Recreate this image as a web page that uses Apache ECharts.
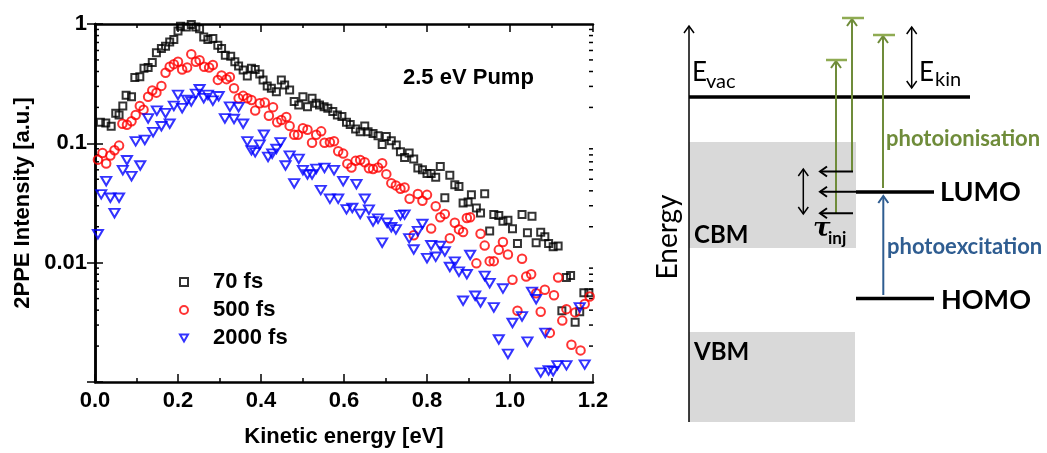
<!DOCTYPE html>
<html>
<head>
<meta charset="utf-8">
<script src="https://cdn.jsdelivr.net/npm/echarts@6/dist/echarts.min.js"></script>
<style>
  html, body { margin: 0; padding: 0; background: #fff; }
  #chart { width: 1047px; height: 453px; }
</style>
</head>
<body>
<div id="chart"></div>
<script>
// [kinetic energy (eV), 2PPE intensity (a.u.)]
const fs70 = [
  [0.013,0.150],[0.026,0.148],[0.039,0.139],[0.050,0.179],[0.058,0.173],[0.067,0.206],[0.075,0.253],[0.088,0.246],
  [0.096,0.357],[0.108,0.362],[0.118,0.425],[0.128,0.432],[0.138,0.476],[0.148,0.573],[0.160,0.622],[0.170,0.652],
  [0.180,0.708],[0.190,0.740],[0.200,0.874],[0.206,0.956],[0.220,0.944],[0.232,0.990],[0.243,0.944],[0.252,0.914],
  [0.262,0.780],[0.272,0.740],[0.284,0.755],[0.296,0.664],[0.305,0.622],[0.314,0.548],[0.327,0.538],[0.337,0.482],
  [0.346,0.444],[0.357,0.411],[0.367,0.367],[0.377,0.425],[0.386,0.416],[0.397,0.381],[0.405,0.340],[0.415,0.303],
  [0.425,0.289],[0.437,0.271],[0.449,0.340],[0.457,0.308],[0.469,0.280],[0.480,0.224],[0.491,0.210],[0.501,0.246],
  [0.512,0.203],[0.523,0.239],[0.533,0.217],[0.541,0.210],[0.552,0.203],[0.561,0.197],[0.573,0.185],[0.584,0.173],
  [0.595,0.168],[0.606,0.150],[0.615,0.144],[0.628,0.132],[0.639,0.125],[0.650,0.140],[0.658,0.125],[0.670,0.121],
  [0.682,0.116],[0.692,0.098],[0.702,0.114],[0.714,0.105],[0.726,0.097],[0.736,0.085],[0.746,0.076],[0.757,0.083],
  [0.768,0.074],[0.778,0.062],[0.789,0.060],[0.800,0.056],[0.810,0.056],[0.821,0.052],[0.832,0.064],[0.843,0.035],
  [0.855,0.054],[0.867,0.045],[0.877,0.0435],[0.887,0.0316],[0.899,0.0322],[0.907,0.037],[0.919,0.0287],[0.929,0.0261],
  [0.939,0.0378],[0.951,0.0184],[0.961,0.0253],[0.973,0.0248],[0.983,0.0222],[0.995,0.0227],[1.006,0.0192],[1.018,0.0145],
  [1.029,0.0253],[1.042,0.0178],[1.053,0.0245],[1.063,0.0147],[1.074,0.0180],[1.084,0.0165],[1.093,0.0145],[1.104,0.0136],
  [1.116,0.0138],[1.125,0.00396],[1.136,0.0075],[1.146,0.0078],[1.157,0.00316],[1.168,0.00388],[1.178,0.0056],[1.190,0.0056]
];
const fs500 = [
  [0.007,0.073],[0.018,0.083],[0.027,0.0677],[0.037,0.079],[0.047,0.0874],[0.058,0.0957],[0.066,0.146],[0.077,0.143],
  [0.088,0.153],[0.098,0.173],[0.108,0.206],[0.117,0.191],[0.128,0.246],[0.138,0.277],[0.148,0.266],[0.160,0.303],
  [0.170,0.391],[0.180,0.438],[0.190,0.461],[0.200,0.482],[0.210,0.416],[0.222,0.432],[0.232,0.559],[0.243,0.482],
  [0.252,0.498],[0.263,0.438],[0.275,0.432],[0.284,0.453],[0.296,0.340],[0.305,0.370],[0.317,0.345],[0.325,0.360],
  [0.335,0.289],[0.346,0.239],[0.357,0.250],[0.367,0.239],[0.377,0.231],[0.386,0.188],[0.397,0.217],[0.409,0.220],
  [0.419,0.170],[0.429,0.201],[0.439,0.150],[0.449,0.157],[0.461,0.166],[0.469,0.140],[0.480,0.118],[0.489,0.118],
  [0.501,0.134],[0.512,0.130],[0.523,0.101],[0.533,0.118],[0.545,0.126],[0.553,0.101],[0.566,0.102],[0.576,0.104],
  [0.586,0.0858],[0.598,0.082],[0.608,0.0676],[0.618,0.0627],[0.628,0.0713],[0.639,0.0726],[0.650,0.0695],[0.660,0.0619],
  [0.670,0.061],[0.682,0.0627],[0.692,0.068],[0.702,0.0552],[0.714,0.0464],[0.725,0.0444],[0.736,0.0416],[0.746,0.0427],
  [0.758,0.0343],[0.768,0.017],[0.778,0.0376],[0.789,0.033],[0.800,0.037],[0.810,0.0193],[0.821,0.0297],[0.832,0.024],
  [0.843,0.0256],[0.855,0.016],[0.867,0.0216],[0.877,0.019],[0.887,0.0181],[0.896,0.0237],[0.904,0.024],[0.919,0.00987],
  [0.929,0.0175],[0.939,0.0139],[0.951,0.0103],[0.961,0.0103],[0.973,0.0128],[0.983,0.0149],[0.995,0.0117],[1.006,0.00718],
  [1.018,0.00396],[1.029,0.0108],[1.039,0.00764],[1.051,0.008],[1.063,0.00555],[1.074,0.00388],[1.084,0.00592],[1.096,0.00258],
  [1.106,0.00534],[1.116,0.0075],[1.126,0.00327],[1.136,0.00408],[1.148,0.00205],[1.157,0.00383],[1.170,0.00184],[1.180,0.0045],
  [1.192,0.00521]
];
const fs2000 = [
  [0.007,0.0173],[0.015,0.0374],[0.027,0.0482],[0.037,0.035],[0.047,0.026],[0.058,0.035],[0.067,0.0596],[0.077,0.0722],
  [0.088,0.0531],[0.098,0.104],[0.109,0.0652],[0.120,0.107],[0.128,0.162],[0.140,0.124],[0.149,0.188],[0.160,0.139],
  [0.170,0.179],[0.180,0.146],[0.190,0.206],[0.200,0.255],[0.210,0.197],[0.222,0.231],[0.232,0.224],[0.243,0.260],
  [0.252,0.284],[0.262,0.239],[0.272,0.255],[0.284,0.228],[0.298,0.248],[0.313,0.162],[0.325,0.203],[0.335,0.160],
  [0.346,0.201],[0.357,0.146],[0.367,0.104],[0.377,0.0874],[0.386,0.0841],[0.397,0.0975],[0.407,0.118],[0.417,0.0769],
  [0.427,0.082],[0.437,0.0897],[0.447,0.102],[0.459,0.0652],[0.469,0.079],[0.480,0.0462],[0.491,0.074],[0.501,0.0596],
  [0.512,0.0548],[0.523,0.0548],[0.533,0.061],[0.544,0.0406],[0.553,0.0623],[0.566,0.0343],[0.576,0.0596],[0.586,0.0343],
  [0.598,0.0482],[0.606,0.028],[0.620,0.0287],[0.630,0.0455],[0.639,0.0256],[0.650,0.0343],[0.660,0.0278],[0.670,0.0222],
  [0.682,0.0234],[0.692,0.0147],[0.704,0.0216],[0.714,0.0198],[0.725,0.019],[0.736,0.025],[0.746,0.0253],[0.757,0.016],
  [0.768,0.0129],[0.778,0.0184],[0.789,0.0211],[0.800,0.0109],[0.810,0.014],[0.821,0.0112],[0.832,0.0138],[0.843,0.0124],
  [0.855,0.0092],[0.867,0.0102],[0.877,0.0084],[0.887,0.0048],[0.896,0.008],[0.904,0.0116],[0.916,0.00528],[0.929,0.00464],
  [0.939,0.00775],[0.951,0.00673],[0.961,0.00422],[0.973,0.00227],[0.983,0.00607],[0.995,0.00172],[1.006,0.00312],[1.029,0.00355],
  [1.042,0.00218],[1.053,0.0057],[1.063,0.00494],[1.074,0.0012],[1.085,0.00258],[1.093,0.00125],[1.104,0.00123],[1.114,0.00138],
  [1.136,0.00138],[1.168,0.00422],[1.180,0.0014]
];
const seriesNames = ['70 fs', '500 fs', '2000 fs'];
const logMinorTicks = [0.002,0.003,0.004,0.005,0.006,0.007,0.008,0.009,
                       0.02,0.03,0.04,0.05,0.06,0.07,0.08,0.09,
                       0.2,0.3,0.4,0.5,0.6,0.7,0.8,0.9];

const chart = echarts.init(document.getElementById('chart'));

const FONT = '"Liberation Sans", Arial, sans-serif';
const DFONT = 'Lato, "Open Sans", sans-serif';
const GREEN = '#6f8c3a';
const GREEN_CAP = '#8fab52';
const BLUE = '#2f5d91';

function line(x1, y1, x2, y2, color, w) {
  return { type: 'line', shape: { x1, y1, x2, y2 }, style: { stroke: color, lineWidth: w } };
}
function head(x, y, dir, color, w) {
  let pts;
  if (dir === 'up') pts = [[x - 5, y + 7], [x, y], [x + 5, y + 7]];
  else if (dir === 'down') pts = [[x - 5, y - 7], [x, y], [x + 5, y - 7]];
  else pts = [[x + 7, y - 5], [x, y], [x + 7, y + 5]];
  return { type: 'polyline', shape: { points: pts }, style: { stroke: color, lineWidth: w, fill: null } };
}
function txt(x, y, text, font, color, rotation) {
  return { type: 'text', x, y, rotation: rotation || 0,
    style: { text, font, fill: color || '#000', align: rotation ? 'center' : 'left', verticalAlign: 'middle' } };
}

const diagram = [
  { type: 'rect', shape: { x: 689, y: 142, width: 167, height: 106 }, style: { fill: '#d9d9d9' } },
  { type: 'rect', shape: { x: 689, y: 332, width: 166, height: 90 }, style: { fill: '#d9d9d9' } },
  line(689, 422, 689, 26, '#000', 1.5), head(689, 26, 'up', '#000', 1.5),
  txt(668, 237, 'Energy', '28px ' + DFONT, '#000', Math.PI / 2),
  line(689, 97, 970, 97, '#000', 3.5),
  txt(692, 73, 'E', '26px ' + DFONT), txt(706, 82, 'vac', '20px ' + DFONT),
  line(911.7, 27, 911.7, 88, '#000', 1.5), head(911.7, 27, 'up', '#000', 1.5), head(911.7, 88, 'down', '#000', 1.5),
  txt(919, 73, 'E', '26px ' + DFONT), txt(935, 80, 'kin', '20px ' + DFONT),
  line(856, 192, 934, 192, '#000', 3.5), line(856, 298.5, 934, 298.5, '#000', 3.5),
  txt(940, 192, 'LUMO', 'bold 27px ' + DFONT), txt(941, 300, 'HOMO', 'bold 27px ' + DFONT),
  txt(694, 235, 'CBM', 'bold 24px ' + DFONT), txt(694, 352, 'VBM', 'bold 24px ' + DFONT),
  // photoionisation arrows
  line(836, 213, 836, 61, GREEN, 2), head(836, 61, 'up', GREEN, 2), line(826, 60, 847, 60, GREEN_CAP, 2.5),
  line(852, 171.5, 852, 19, GREEN, 2), head(852, 19, 'up', GREEN, 2), line(842, 18, 864, 18, GREEN_CAP, 2.5),
  line(883, 188, 883, 36, GREEN, 2), head(883, 36, 'up', GREEN, 2), line(873, 35, 895, 35, GREEN_CAP, 2.5),
  txt(886, 139, 'photoionisation', 'bold 22px ' + DFONT, GREEN),
  // photoexcitation
  line(883.3, 295, 883.3, 196, BLUE, 2), head(883.3, 196, 'up', BLUE, 2),
  txt(887, 247, 'photoexcitation', 'bold 22px ' + DFONT, BLUE),
  // injection arrows
  line(853, 171.5, 820, 171.5, '#000', 2), head(820, 171.5, 'left', '#000', 2),
  line(856, 191.7, 820, 191.7, '#000', 2), head(820, 191.7, 'left', '#000', 2),
  line(853, 213.3, 820, 213.3, '#000', 2), head(820, 213.3, 'left', '#000', 2),
  line(803.3, 169, 803.3, 214, '#000', 1.5), head(803.3, 169, 'up', '#000', 1.5), head(803.3, 214, 'down', '#000', 1.5),
  txt(813, 229, '\u03C4', 'italic bold 26px "DejaVu Serif", serif'),
  txt(828, 239, 'inj', 'bold 17px ' + DFONT),
  // panel title
  txt(403, 78, '2.5 eV Pump', 'bold 22px ' + FONT)
];

const axisCommon = {
  axisLine: { show: true, lineStyle: { color: '#000', width: 2.5 } },
  axisTick: { show: true, inside: true, length: 8, lineStyle: { color: '#000', width: 1.5 } },
  splitLine: { show: false }
};
const hollow = c => ({ color: 'rgba(255,255,255,0)', borderColor: c, borderWidth: 2 });

const option = {
  animation: false,
  backgroundColor: '#fff',
  grid: { left: 95, right: 454, top: 24, bottom: 69, containLabel: false },
  legend: {
    orient: 'vertical', left: 174, top: 266, itemWidth: 8, itemHeight: 8, itemGap: 6,
    selectedMode: false, data: seriesNames,
    textStyle: { fontFamily: FONT, fontWeight: 'bold', fontSize: 22, color: '#000', lineHeight: 22, padding: [0, 0, 0, 20] }
  },
  xAxis: [
    Object.assign({}, axisCommon, {
      type: 'value', min: 0, max: 1.2, interval: 0.2, position: 'bottom',
      minorTick: { show: true, splitNumber: 2, length: 4, lineStyle: { color: '#000', width: 1.5 } },
      axisLabel: { margin: 8, fontFamily: FONT, fontWeight: 'bold', fontSize: 22, color: '#000',
        formatter: v => v.toFixed(1) },
      name: 'Kinetic energy [eV]', nameLocation: 'middle', nameGap: 44,
      nameTextStyle: { fontFamily: FONT, fontWeight: 'bold', fontSize: 22, color: '#000' }
    }),
    Object.assign({}, axisCommon, {
      type: 'value', min: 0, max: 1.2, interval: 0.2, position: 'top',
      minorTick: { show: true, splitNumber: 2, length: 4, lineStyle: { color: '#000', width: 1.5 } },
      axisLabel: { show: false }
    })
  ],
  yAxis: [
    Object.assign({}, axisCommon, {
      type: 'log', logBase: 10, min: 0.001, max: 1, position: 'left',
      axisLabel: { margin: 8, fontFamily: FONT, fontWeight: 'bold', fontSize: 22, color: '#000',
        formatter: v => v > 0.5 ? '1' : v > 0.05 ? '0.1' : v > 0.005 ? '0.01' : '' },
      name: '2PPE Intensity [a.u.]', nameLocation: 'middle', nameGap: 61,
      nameTextStyle: { fontFamily: FONT, fontWeight: 'bold', fontSize: 22, color: '#000' }
    }),
    Object.assign({}, axisCommon, {
      type: 'log', logBase: 10, min: 0.001, max: 1, position: 'right',
      axisLabel: { show: false }
    })
  ],
  graphic: diagram,
  series: [
    { name: seriesNames[0], type: 'scatter', data: fs70, symbol: 'rect', symbolSize: 7, itemStyle: hollow('#000') },
    { name: seriesNames[1], type: 'scatter', data: fs500, symbol: 'circle', symbolSize: 8.5, itemStyle: hollow('#ff0000') },
    { name: seriesNames[2], type: 'scatter', data: fs2000, symbol: 'path://M0,0L10,0L5,8.66Z', symbolSize: [10, 8.5], itemStyle: hollow('#0000ff') },
    {
      type: 'custom', silent: true, data: logMinorTicks.map(v => [0, v]),
      renderItem: function (params, api) {
        const v = api.value(1);
        const a = api.coord([0, v]);
        const b = api.coord([1.2, v]);
        return { type: 'group', children: [
          { type: 'line', shape: { x1: a[0], y1: a[1], x2: a[0] + 4, y2: a[1] }, style: { stroke: '#000', lineWidth: 1.5 } },
          { type: 'line', shape: { x1: b[0] - 4, y1: b[1], x2: b[0], y2: b[1] }, style: { stroke: '#000', lineWidth: 1.5 } }
        ] };
      }
    }
  ]
};
chart.setOption(option);
</script>
</body>
</html>
